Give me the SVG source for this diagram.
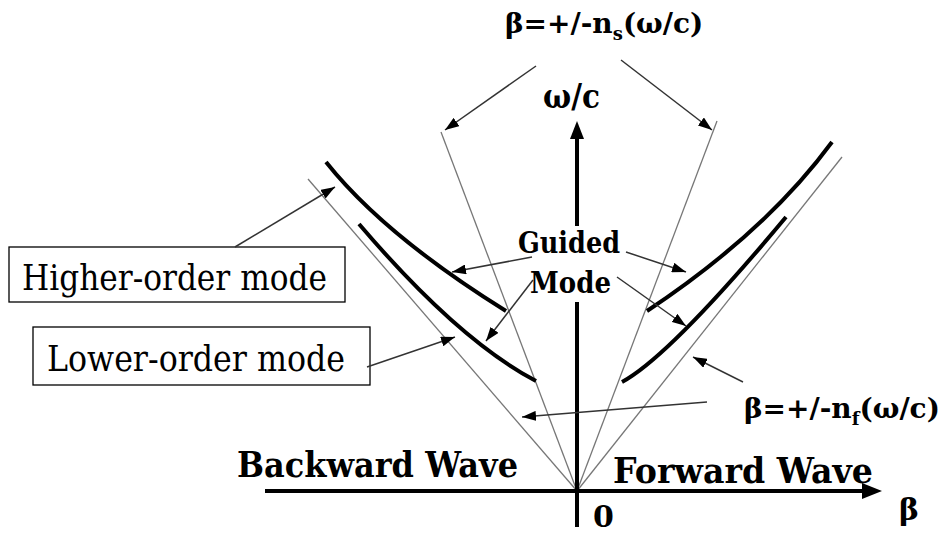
<svg xmlns="http://www.w3.org/2000/svg" width="949" height="533" viewBox="0 0 949 533">
<style>
text{font-family:'DejaVu Serif','Liberation Serif',serif;fill:#000}
.b{font-weight:bold}
.sub{font-size:18px;baseline-shift:-7px}
.thin{stroke:#777;stroke-width:1.3;fill:none}
.crv{stroke:#000;stroke-width:4;fill:none;stroke-linecap:butt}
.ptr{stroke:#333;stroke-width:1.5;fill:none;marker-end:url(#ah)}
.axis{stroke:#000;stroke-width:4;fill:none}
.box{fill:#fff;stroke:#000;stroke-width:1.3}
</style>
<defs>
<marker id="ah" viewBox="0 0 14 10" refX="14" refY="5" markerWidth="14" markerHeight="10" markerUnits="userSpaceOnUse" orient="auto">
<path d="M0,0 L14,5 L0,10 z" fill="#000"/>
</marker>
</defs>
<rect width="949" height="533" fill="#fff"/>
<g id="light-lines">
<line class="thin" x1="577" y1="491" x2="441" y2="132"/>
<line class="thin" x1="577" y1="491" x2="717" y2="121"/>
<line class="thin" x1="577" y1="491" x2="308" y2="179"/>
<line class="thin" x1="577" y1="491" x2="842" y2="157"/>
</g>
<g id="axes">
<line class="axis" x1="265" y1="491" x2="864" y2="491"/>
<path d="M882,491 L862,483 L862,499 z" fill="#000"/>
<line class="axis" x1="577" y1="527" x2="577" y2="138"/>
<path d="M577,121 L570,139 L584,139 z" fill="#000"/>
</g>
<g id="curves">
<path class="crv" d="M326,162 Q384,235 506,311"/>
<path class="crv" d="M359,224 Q458,340 536,381"/>
<path class="crv" d="M647,311 Q766,232 832,142"/>
<path class="crv" d="M622,382 Q670,356 786,217"/>
</g>
<g id="guided-mode">
<rect x="516" y="226" width="106" height="76" fill="#fff"/>
<text class="b" x="518" y="253" font-size="30" textLength="102" lengthAdjust="spacingAndGlyphs">Guided</text>
<text class="b" x="530" y="293" font-size="30" textLength="81" lengthAdjust="spacingAndGlyphs">Mode</text>
</g>
<g id="higher-order-mode">
<rect class="box" x="9" y="247" width="336" height="55"/>
<text x="22" y="290" font-size="35" textLength="305" lengthAdjust="spacingAndGlyphs">Higher-order mode</text>
</g>
<g id="lower-order-mode">
<rect class="box" x="33" y="327" width="337" height="58"/>
<text x="47" y="371" font-size="35" textLength="298" lengthAdjust="spacingAndGlyphs">Lower-order mode</text>
</g>
<g id="label-ns">
<text class="b" x="505" y="33" font-size="28">β=+/-n<tspan class="sub">s</tspan>(ω/c)</text>
</g>
<g id="label-nf">
<text class="b" x="744" y="418" font-size="28">β=+/-n<tspan class="sub">f</tspan>(ω/c)</text>
</g>
<g id="label-omega">
<text class="b" x="543" y="108" font-size="34" textLength="57" lengthAdjust="spacingAndGlyphs">ω/c</text>
</g>
<g id="label-beta">
<text class="b" x="899" y="520" font-size="30">β</text>
</g>
<g id="label-zero">
<text class="b" x="593" y="527" font-size="30">0</text>
</g>
<g id="label-backward">
<text class="b" x="237" y="477" font-size="36" textLength="281" lengthAdjust="spacingAndGlyphs">Backward Wave</text>
</g>
<g id="label-forward">
<text class="b" x="613" y="483" font-size="36" textLength="260" lengthAdjust="spacingAndGlyphs">Forward Wave</text>
</g>
<g id="connectors">
<line class="ptr" x1="536" y1="66" x2="445" y2="130"/>
<line class="ptr" x1="621" y1="60" x2="712" y2="130"/>
<line class="ptr" x1="235" y1="247" x2="335" y2="187"/>
<line class="ptr" x1="367" y1="367" x2="455" y2="337"/>
<line class="ptr" x1="532" y1="257" x2="452" y2="272"/>
<line class="ptr" x1="533" y1="280" x2="486" y2="341"/>
<line class="ptr" x1="626" y1="252" x2="686" y2="272"/>
<line class="ptr" x1="617" y1="277" x2="686" y2="326"/>
<line class="ptr" x1="743" y1="382" x2="693" y2="357"/>
<line class="ptr" x1="707" y1="402" x2="522" y2="417"/>
</g>
</svg>
